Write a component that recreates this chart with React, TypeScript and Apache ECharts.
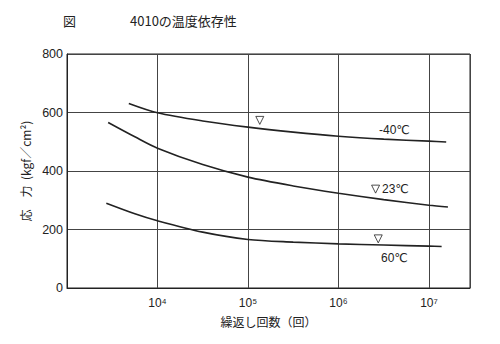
import React, { useEffect, useRef } from "react";
import * as echarts from "echarts";

const titleFig = "図";
const titleText = "4010の温度依存性";
const xName = "繰返し回数（回）";
const yName = "応　力  (kgf／cm²)";

const yTicks = [0, 200, 400, 600, 800];
const supDigits: Record<number, string> = { 4: "⁴", 5: "⁵", 6: "⁶", 7: "⁷" };

// cycles, stress (kgf/cm²)
const curveM40: [number, number][] = [
  [4820, 631], [1e4, 599], [3.16e4, 571], [1e5, 550], [3.16e5, 533], [1e6, 519], [3.16e6, 509], [1e7, 502], [1.55e7, 499],
];
const curve23: [number, number][] = [
  [2850, 566], [5620, 517], [1e4, 478], [3.16e4, 422], [1e5, 379], [3.16e5, 349], [1e6, 324], [3.16e6, 302], [1e7, 283], [1.62e7, 277],
];
const curve60: [number, number][] = [
  [2720, 290], [5620, 254], [1e4, 230], [3.16e4, 191], [1e5, 166], [3.16e5, 157], [1e6, 151], [3.16e6, 147], [1e7, 143], [1.38e7, 142],
];
const markers: [number, number][] = [
  [1.35e5, 573], [2.57e6, 338], [2.75e6, 168],
];
const curveNames = ["-40℃", "23℃", "60℃"];

const JP = "'Noto Sans CJK JP', 'Liberation Sans', sans-serif";
const LAT = "'Liberation Sans', 'DejaVu Sans', sans-serif";
const INK = "#222";

export default function App() {
  const ref = useRef<HTMLDivElement>(null);
  useEffect(() => {
    if (!ref.current) return;
    const chart = echarts.init(ref.current, undefined, { renderer: "svg" });
    const lineSeries = (data: [number, number][]) => ({
      type: "line",
      data,
      smooth: 0.3,
      showSymbol: false,
      symbol: "none",
      lineStyle: { color: INK, width: 1.6 },
      z: 5,
    });
    chart.setOption({
      animation: false,
      backgroundColor: "#fff",
      grid: {
        left: 67, right: 30, top: 54, bottom: 56,
        show: true, borderColor: INK, borderWidth: 1,
      },
      graphic: [
        { type: "text", left: 63, top: 14, style: { text: titleFig, font: `13px ${JP}`, fill: INK } },
        { type: "text", left: 130, top: 14, style: { text: titleText, font: `13px ${JP}`, fill: INK } },
        { type: "text", left: 379, top: 124, style: { text: curveNames[0], font: `12px ${LAT}`, fill: INK } },
        { type: "text", left: 382, top: 183, style: { text: curveNames[1], font: `12px ${LAT}`, fill: INK } },
        { type: "text", left: 381, top: 252, style: { text: curveNames[2], font: `12px ${LAT}`, fill: INK } },
      ],
      xAxis: {
        type: "log",
        logBase: 10,
        min: 1000,
        max: 2.84e7,
        name: xName,
        nameLocation: "middle",
        nameGap: 27,
        nameTextStyle: { fontFamily: JP, fontSize: 12, color: INK },
        axisLine: { show: true, lineStyle: { color: INK, width: 1 } },
        axisTick: { show: false },
        minorTick: { show: false },
        splitLine: { show: true, lineStyle: { color: "#444", width: 1 } },
        axisLabel: {
          margin: 9,
          fontFamily: LAT,
          fontSize: 12,
          color: INK,
          showMinLabel: false,
          formatter: (v: number) => {
            const l = Math.log10(v);
            const e = Math.round(l);
            if (Math.abs(l - e) > 0.01 || !supDigits[e]) return "";
            return "10" + supDigits[e];
          },
        },
      },
      yAxis: {
        type: "value",
        min: yTicks[0],
        max: yTicks[yTicks.length - 1],
        interval: 200,
        name: yName,
        nameLocation: "middle",
        nameGap: 33,
        nameTextStyle: { fontFamily: JP, fontSize: 12, color: INK },
        axisLine: { show: true, lineStyle: { color: INK, width: 1 } },
        axisTick: { show: false },
        splitLine: { show: true, lineStyle: { color: "#444", width: 1 } },
        axisLabel: { margin: 4, fontFamily: LAT, fontSize: 12.5, color: INK },
      },
      series: [
        lineSeries(curveM40),
        lineSeries(curve23),
        lineSeries(curve60),
        {
          type: "scatter",
          data: markers,
          symbol: "triangle",
          symbolRotate: 180,
          symbolSize: [8, 8],
          itemStyle: { color: "#fff", borderColor: INK, borderWidth: 1 },
          z: 6,
        },
      ],
    });
    return () => chart.dispose();
  }, []);
  return <div ref={ref} style={{ width: 500, height: 344, position: "absolute", left: 0, top: 0 }} />;
}
